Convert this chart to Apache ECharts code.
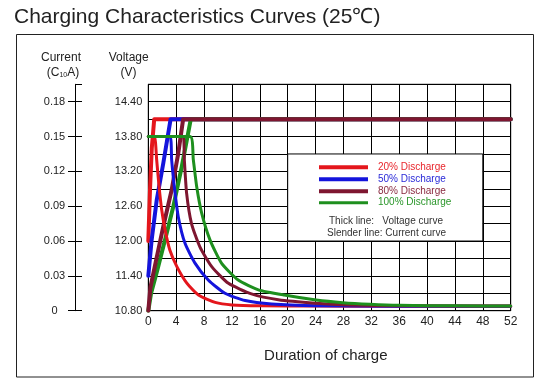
<!DOCTYPE html>
<html>
<head>
<meta charset="utf-8">
<script src="https://cdn.jsdelivr.net/npm/echarts@6/dist/echarts.min.js"></script>
<style>
html,body{margin:0;padding:0;background:#fff;}
#chart{width:546px;height:390px;}
</style>
</head>
<body>
<div id="chart"></div>
<script>
// ---- Data (hours of charge) ----
const xTicks = [0, 4, 8, 12, 16, 20, 24, 28, 32, 36, 40, 44, 48, 52];
const voltageTicks = [10.8, 11.4, 12.0, 12.6, 13.2, 13.8, 14.4];
const currentTicks = [0, 0.03, 0.06, 0.09, 0.12, 0.15, 0.18];
const seriesNames = ['20% Discharge', '50% Discharge', '80% Discharge', '100% Discharge'];

// Voltage curves (V)
const v20T = [0, 0.25, 0.5, 0.85, 52];
const v20V = [12.0, 12.9, 13.6, 14.1, 14.1];
const v50T = [0, 0.48, 1.2, 2.15, 3.2, 52];
const v50V = [11.4, 12.02, 12.7, 13.34, 14.1, 14.1];
const v80T = [0, 0.3, 1.0, 2.15, 3.35, 4.3, 5.0, 52];
const v80V = [10.8, 11.2, 11.6, 12.25, 12.88, 13.51, 14.1, 14.1];
const v100T = [0, 0.4, 1.3, 2.63, 3.6, 4.8, 6.1, 52];
const v100V = [10.8, 11.1, 11.5, 12.13, 12.6, 13.28, 14.1, 14.1];

// Current curves (C10 A)
const c20T = [0, 0.86, 1.2, 1.54, 1.92, 2.4, 3.1, 4.1, 5.5, 7.2, 9.6, 12, 16, 24, 36, 52];
const c20I = [0.15, 0.15, 0.13, 0.107, 0.087, 0.07, 0.052, 0.038, 0.024, 0.0135, 0.0072, 0.005, 0.0042, 0.004, 0.0038, 0.0038];
const c50T = [0, 3.1, 3.35, 3.73, 4.3, 5.27, 6.7, 8.6, 11, 13.9, 17.7, 24, 36, 52];
const c50I = [0.15, 0.15, 0.13, 0.107, 0.081, 0.058, 0.041, 0.0264, 0.015, 0.0088, 0.0058, 0.0043, 0.0039, 0.0038];
const c80T = [0, 5.0, 5.17, 5.5, 6.2, 7.4, 9.1, 11.5, 14.8, 18.65, 24, 28.8, 36, 52];
const c80I = [0.15, 0.15, 0.13, 0.101, 0.075, 0.055, 0.038, 0.0236, 0.0145, 0.0095, 0.0065, 0.005, 0.0042, 0.004];
const c100T = [0, 6.0, 6.46, 6.94, 7.66, 8.85, 10.5, 12.9, 15.8, 19.5, 24.1, 27.9, 31.8, 36, 44, 52];
const c100I = [0.15, 0.15, 0.13, 0.107, 0.084, 0.061, 0.041, 0.0264, 0.018, 0.0135, 0.0092, 0.0069, 0.0055, 0.0046, 0.0042, 0.004];

// Legend box area (in data units)
const legendBoxX = [20, 48];
const legendBoxV = [12.0, 13.5];

const colors = ['#e4161c', '#1414dc', '#7e1630', '#1e8f1e'];
const textColors = ['#e8262c', '#2a2ad8', '#8a2a40', '#2a962a'];
const FONT = "'Liberation Sans', Arial, sans-serif";

function pairs(t, v) { return t.map((x, i) => [x, v[i]]); }
const vMin = 10.8, vMax = 14.7, vStep = 0.3;
const iMin = 0, iMax = (vMax - vMin) * 0.05; // 0.195, same pixel mapping as voltage
const iStep = 0.03;

const voltageData = [pairs(v20T, v20V), pairs(v50T, v50V), pairs(v80T, v80V), pairs(v100T, v100V)];
const currentData = [pairs(c20T, c20I), pairs(c50T, c50I), pairs(c80T, c80I), pairs(c100T, c100I)];

function near(list, v) { return list.some(t => Math.abs(t - v) < 1e-6); }

const series = [];
// voltage lines (thick); dark red drawn last so plateau looks as in reference
[0, 1, 3, 2].forEach((k, idx) => {
  const s = {
    name: seriesNames[k], type: 'line', yAxisIndex: 0, xAxisIndex: 0,
    data: voltageData[k], showSymbol: false, smooth: false,
    lineStyle: { color: colors[k], width: 4, join: 'round', cap: 'round' }, itemStyle: { color: colors[k] },
    z: 3, silent: true, animation: false
  };
  if (idx === 0) {
    s.markArea = {
      silent: true,
      itemStyle: { color: '#ffffff', borderColor: '#000', borderWidth: 1 },
      data: [[{ xAxis: legendBoxX[0], yAxis: legendBoxV[1] }, { xAxis: legendBoxX[1], yAxis: legendBoxV[0] }]]
    };
  }
  series.push(s);
});
// current lines (slender); green on top
[0, 1, 2, 3].forEach(k => {
  series.push({
    name: seriesNames[k] + ' current', type: 'line', yAxisIndex: 1, xAxisIndex: 0,
    data: currentData[k], showSymbol: false, smooth: 0.2,
    lineStyle: { color: colors[k], width: 3, join: 'round', cap: 'round' }, itemStyle: { color: colors[k] },
    z: 4, silent: true, animation: false
  });
});

const gridLeft = 148.3, gridTop = 84.3, gridRight = 546 - 510.7, gridBottom = 390 - 310.7;

// Legend graphics (inside the box)
const legendGraphics = [];
const legendY = [167.3, 179.3, 191.3, 202.7];
seriesNames.forEach((n, k) => {
  legendGraphics.push({
    type: 'line', shape: { x1: 319, y1: legendY[k], x2: 368, y2: legendY[k] },
    style: { stroke: colors[k], lineWidth: k === 3 ? 3 : 4 }, z: 100
  });
  legendGraphics.push({
    type: 'text', x: 378, y: legendY[k],
    style: { text: n, fill: textColors[k], font: '10px ' + FONT, textVerticalAlign: 'middle', textAlign: 'left' }, z: 100
  });
});
legendGraphics.push({
  type: 'text', x: 329, y: 221.7,
  style: { text: 'Thick line:   Voltage curve', fill: '#333', font: '10px ' + FONT, textVerticalAlign: 'middle' }, z: 100
});
legendGraphics.push({
  type: 'text', x: 327, y: 233.3,
  style: { text: 'Slender line: Current curve', fill: '#333', font: '10px ' + FONT, textVerticalAlign: 'middle' }, z: 100
});

const chart = echarts.init(document.getElementById('chart'), null, { renderer: 'canvas' });
chart.setOption({
  animation: false,
  backgroundColor: '#fff',
  grid: { left: gridLeft, top: gridTop, right: gridRight, bottom: gridBottom, show: true, borderColor: '#000', borderWidth: 1, backgroundColor: 'transparent' },
  xAxis: [{
    type: 'value', min: xTicks[0], max: xTicks[xTicks.length - 1], interval: 4,
    axisLine: { show: true, lineStyle: { color: '#000', width: 1 } },
    axisTick: { show: false },
    splitLine: { show: true, lineStyle: { color: '#000', width: 1 } },
    axisLabel: { show: true, color: '#222', fontSize: 12, fontFamily: FONT, margin: 5,
      formatter: v => near(xTicks, v) ? String(v) : '' }
  }],
  yAxis: [{
    type: 'value', position: 'left', min: vMin, max: vMax, interval: vStep,
    axisLine: { show: true, lineStyle: { color: '#000', width: 1 } },
    axisTick: { show: false },
    splitLine: { show: true, lineStyle: { color: '#000', width: 1 } },
    axisLabel: { color: '#222', fontSize: 11, fontFamily: FONT, margin: 6,
      formatter: v => near(voltageTicks, v) ? v.toFixed(2) : '' }
  }, {
    type: 'value', position: 'left', offset: 73.3, min: iMin, max: iMax, interval: iStep,
    axisLine: { show: true, lineStyle: { color: '#000', width: 1 } },
    axisTick: { show: true, length: 7, inside: false, lineStyle: { color: '#000', width: 1 } },
    splitLine: { show: false },
    axisLabel: { color: '#222', fontSize: 11, fontFamily: FONT, margin: 20.5, align: 'center', showMaxLabel: false,
      formatter: v => near(currentTicks, v) ? (v === 0 ? '0' : v.toFixed(2)) : '' }
  }, {
    type: 'value', position: 'left', offset: 73.3, min: iMin, max: iMax, interval: iStep,
    axisLine: { show: false },
    axisTick: { show: true, length: 7, inside: true, lineStyle: { color: '#000', width: 1 } },
    splitLine: { show: false },
    axisLabel: { show: false }
  }],
  series: series,
  graphic: [
    { type: 'rect', shape: { x: 16.5, y: 34.5, width: 517, height: 342.5 },
      style: { fill: 'none', stroke: '#222', lineWidth: 1 }, z: 0, silent: true },
    { type: 'text', x: 14, y: 17,
      style: { text: 'Charging Characteristics Curves (25℃)', fill: '#222', font: '21px ' + FONT, textVerticalAlign: 'middle' } },
    { type: 'text', x: 61, y: 57.7,
      style: { text: 'Current', fill: '#222', font: '12px ' + FONT, textAlign: 'center', textVerticalAlign: 'middle' } },
    { type: 'text', x: 63, y: 72.3,
      style: { text: '(C{s|10}A)', fill: '#222', font: '12px ' + FONT, textAlign: 'center', textVerticalAlign: 'middle',
        rich: { s: { fontSize: 7, fontFamily: FONT, fill: '#222', verticalAlign: 'bottom' } } } },
    { type: 'text', x: 128.7, y: 57.7,
      style: { text: 'Voltage', fill: '#222', font: '12px ' + FONT, textAlign: 'center', textVerticalAlign: 'middle' } },
    { type: 'text', x: 128.5, y: 72.3,
      style: { text: '(V)', fill: '#222', font: '12px ' + FONT, textAlign: 'center', textVerticalAlign: 'middle' } },
    { type: 'text', x: 325.8, y: 356,
      style: { text: 'Duration of charge', fill: '#222', font: '15px ' + FONT, textAlign: 'center', textVerticalAlign: 'middle' } }
  ].concat(legendGraphics)
});
</script>
</body>
</html>
